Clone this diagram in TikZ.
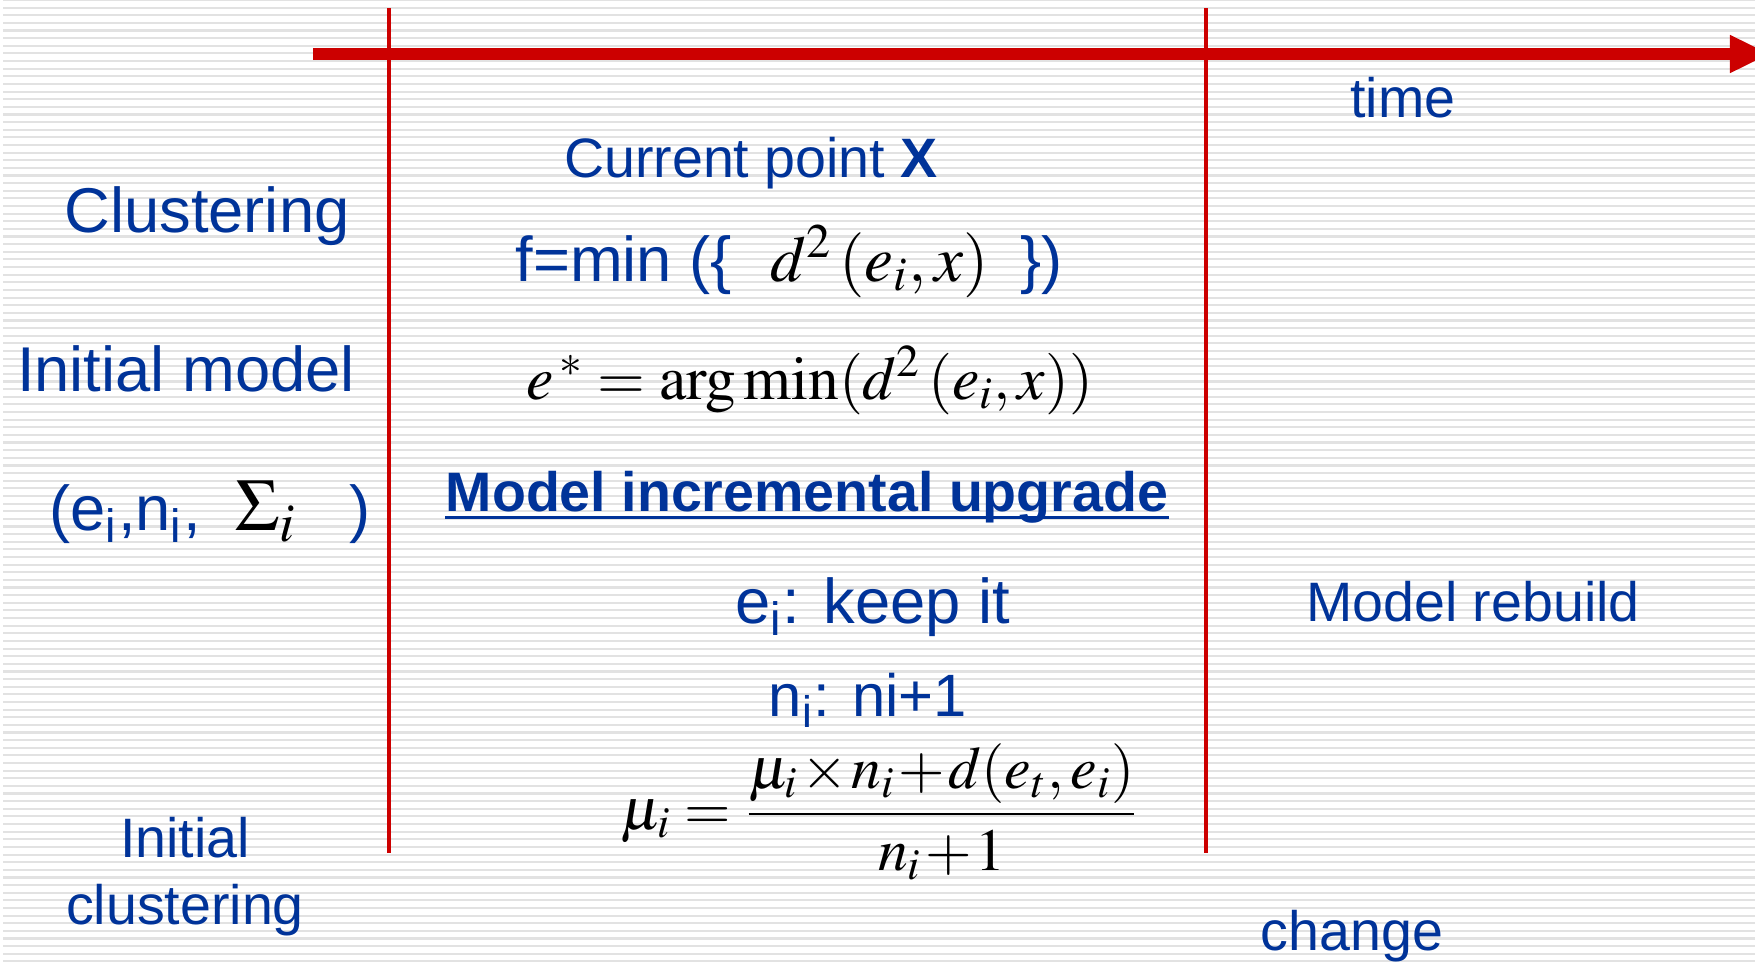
\documentclass[tikz,border=0pt]{standalone}
\usepackage{mathptmx}
\usepackage[no-math]{fontspec}
\setmainfont{Liberation Sans}
\definecolor{SlideBlue}{HTML}{003399}
\definecolor{SlideRed}{HTML}{CC0000}
\definecolor{StripeGray}{HTML}{E2E2E2}
\usetikzlibrary{arrows.meta}

\newcommand{\bigtxt}{\fontsize{18}{21}\selectfont}
\newcommand{\midtxt}{\fontsize{15.8}{19}\selectfont}
\newcommand{\eqtxt}{\fontsize{17.5}{21}\selectfont}

\begin{document}
\begin{tikzpicture}[x=0.01cm,y=-0.01cm,
  lbl/.style={text=SlideBlue,inner sep=0pt,anchor=base,font=\bigtxt},
  sml/.style={lbl,font=\midtxt},
  eqn/.style={inner sep=0pt,anchor=base,font=\eqtxt},
  divider/.style={SlideRed,line width=1.1pt}]
  \useasboundingbox (0,0) rectangle (1755,963);
  \clip (0,0) rectangle (1755,963);
  \fill[white] (0,0) rectangle (1755,963);
  % striped slide background
  \foreach \yy in {0,...,126}
    \draw[StripeGray,line width=0.6pt] (3,7.63*\yy) -- (1755,7.63*\yy);

  % time axis and the two phase borders
  \coordinate (tstart) at (313,54);
  \coordinate (tend) at (1770,54);
  \coordinate (d1top) at (389,8);
  \coordinate (d1bot) at (389,853);
  \coordinate (d2top) at (1206,8);
  \coordinate (d2bot) at (1206,853);
  \draw[SlideRed,line width=3.3pt,-{Triangle[length=11.4pt,width=10pt]}] (tstart) -- (tend);
  \draw[divider] (d1top) -- (d1bot);
  \draw[divider] (d2top) -- (d2bot);

  \node[sml] (time) at (1403,117) {time};
  \node[sml] (curpt) at (751,177) {Current point \textbf{X}};
  \node[lbl] (clus) at (207,232) {Clustering};
  \node[lbl] (fmin) at (789,281) {f=min (\{\hspace{11pt}{\color{black}\fontsize{18.5}{22}\selectfont$d^2\,(e_i,x)$}\hspace{9pt}\})};
  \node[lbl] (initmod) at (186,391) {Initial model};
  \node[eqn] (estar) at (810,399) {$e^{\,*}=\arg\min(d^2\,(e_i,x))$};
  \node[lbl] (tuple) at (210,530) {(e\textsubscript{i},n\textsubscript{i},\hspace{10pt}{\color{black}\fontsize{21}{24}\selectfont$\Sigma_i$}\hspace{15pt})};
  \node[sml,font=\midtxt\bfseries] (upg) at (807,511) {Model incremental upgrade};
  \draw[SlideBlue,line width=0.9pt] ([yshift=-1.8pt]upg.base west) -- ([yshift=-1.8pt]upg.base east);
  \node[lbl] (keep) at (873,623) {e\textsubscript{i}: keep it};
  \node[sml] (rebuild) at (1473,621) {Model rebuild};
  \node[lbl,font=\fontsize{17}{20}\selectfont] (nplus) at (868,716) {n\textsubscript{i}: ni+1};
  \node[eqn,font=\fontsize{17}{20}\selectfont] (mueq) at (880,829) {\medmuskip=1mu$\displaystyle\mu_i=\frac{\mu_i\times n_i+d(e_t,e_i)}{n_i+1}$};
  \node[sml,align=center,anchor=north] (initclus) at (185,817) {Initial\\clustering};
  \node[sml] (change) at (1352,950) {change};
\end{tikzpicture}
\end{document}
